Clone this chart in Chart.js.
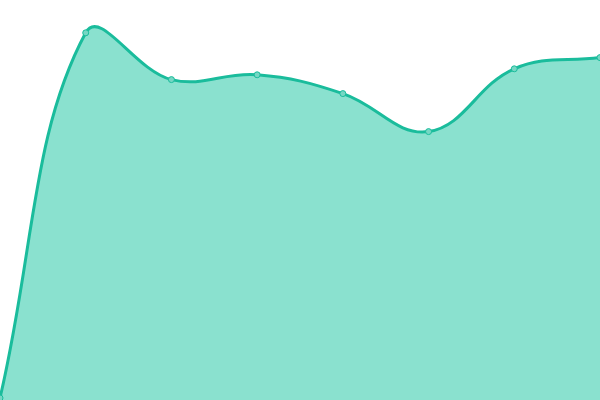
<!DOCTYPE html>
<html>
<head>
<meta charset="utf-8">
<script src="https://cdn.jsdelivr.net/npm/chart.js@4/dist/chart.umd.min.js"></script>
<style>
  html, body { margin: 0; padding: 0; background: #fff; }
  #wrap { width: 600px; height: 400px; }
</style>
</head>
<body>
<div id="wrap"><canvas id="chart"></canvas></div>
<script>
// values, scale 0..100
const labels = ['1', '2', '3', '4', '5', '6', '7', '8'];
const values = [0.5, 91.8, 80.1, 81.3, 76.6, 67.1, 82.8, 85.6];

const ctx = document.getElementById('chart').getContext('2d');
new Chart(ctx, {
  type: 'line',
  data: {
    labels,
    datasets: [{
      data: values,
      borderColor: '#1abc9c',
      backgroundColor: 'rgba(22,196,160,0.5)',
      borderWidth: 3,
      tension: 0.4,
      fill: 'origin',
      pointRadius: 3,
      pointBorderWidth: 1,
      pointBackgroundColor: 'rgba(118,215,196,1)',
      pointBorderColor: '#1abc9c',
    }]
  },
  options: {
    responsive: true,
    maintainAspectRatio: false,
    animation: false,
    layout: { padding: 0, autoPadding: false },
    plugins: { legend: { display: false }, tooltip: { enabled: false } },
    scales: {
      x: { display: false, offset: false },
      y: { display: false, min: 0, max: 100 }
    }
  }
});
</script>
</body>
</html>
